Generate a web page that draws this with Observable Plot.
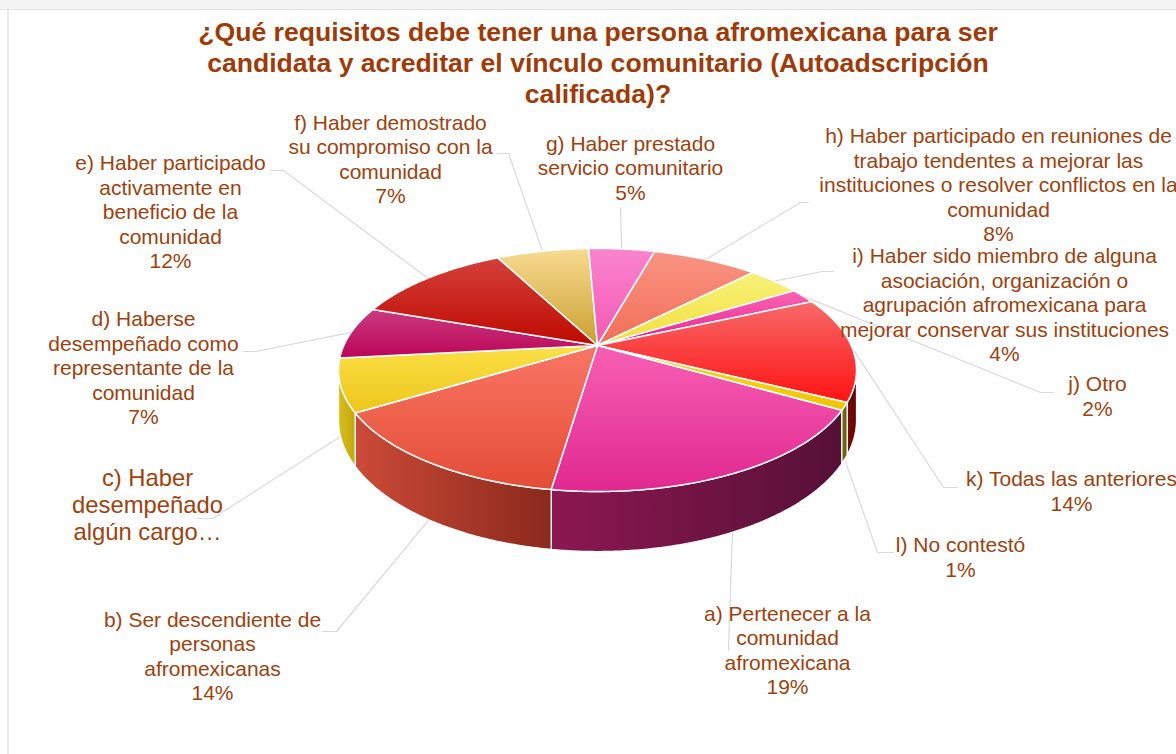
<!DOCTYPE html>
<html><head><meta charset="utf-8">
<script src="https://cdn.jsdelivr.net/npm/d3@7"></script>
<script src="https://cdn.jsdelivr.net/npm/@observablehq/plot@0.6"></script>
<style>
body{margin:0;background:#fff;}
#wrap{position:relative;width:1176px;height:754px;overflow:hidden;}
#topband{position:absolute;left:0;top:0;width:1176px;height:9px;background:#F3F3F3;border-bottom:1px solid #E4E4E4;}
#leftline{position:absolute;left:7px;top:10px;width:2px;height:744px;background:#ECECEC;}
#title{position:absolute;left:0;width:1196px;top:17px;text-align:center;font-family:"Liberation Sans Narrow","Arial Narrow","Liberation Sans",Arial,sans-serif;font-weight:bold;font-size:26.6px;line-height:31px;color:#9E3B08;}
#chart{position:absolute;left:0;top:0;}
</style></head><body>
<div id="wrap">
<div id="topband"></div>
<div id="leftline"></div>
<div id="chart"></div>
<div id="title">¿Qué requisitos debe tener una persona afromexicana para ser<br>candidata y acreditar el vínculo comunitario (Autoadscripción<br>calificada)?</div>
</div>
<script>
// ---- data ----
const keys = ["a","b","c","d","e","f","g","h","i","j","k","l"];
const categories = [
  "a) Pertenecer a la\ncomunidad\nafromexicana",
  "b) Ser descendiente de\npersonas\nafromexicanas",
  "c) Haber\ndesempeñado\nalgún cargo…",
  "d) Haberse\ndesempeñado como\nrepresentante de la\ncomunidad",
  "e) Haber participado\nactivamente en\nbeneficio de la\ncomunidad",
  "f) Haber demostrado\nsu compromiso con la\ncomunidad",
  "g) Haber prestado\nservicio comunitario",
  "h) Haber participado en reuniones de\ntrabajo tendentes a mejorar las\ninstituciones o resolver conflictos en la\ncomunidad",
  "i) Haber sido miembro de alguna\nasociación, organización o\nagrupación afromexicana para\nmejorar conservar sus instituciones",
  "j) Otro",
  "k) Todas las anteriores",
  "l) No contestó"
];
const values = [19,14,7,7,12,7,5,8,4,2,14,1];
const showPercent = [true,true,false,true,true,true,true,true,true,true,true,true];

// ---- styles ----
const topGrad = [
  ["#F760B4","#E0288F"],["#F87664","#E44C36"],["#FBE046","#EDC61C"],["#CA3A7E","#BC0558"],
  ["#D4403A","#BE0A00"],["#F8DB92","#C99F2E"],["#FA84CE","#F458B6"],["#FA9484","#F26E56"],
  ["#F8F27A","#F2DE3C"],["#F866B4","#EC1E8E"],["#F76A6A","#FF1212"],["#F8DA2A","#EEC400"]
];
const wallGrad = [
  ["#8C1852","#561036"],["#CC4A38","#8A291C"],["#D9BE1E","#C5A60E"],["#8A0A4A","#7A0840"],
  ["#8A0A00","#7A0800"],["#A88020","#987018"],["#C04090","#B03080"],["#C05040","#B04030"],
  ["#B0A020","#A09018"],["#A01060","#901050"],["#7A0C0C","#5E0606"],["#7A720C","#5E5806"]
];
const labelColor = "#A0410D";

// ---- layout ----
const cx = 597, cy = 345, A = 253.7, B = 116.6, K = 0.2016, D = 47.9, startDeg = 120;
const labelLayout = {
  a:{x:787,y:649,sx:728,sy:650},
  b:{x:212,y:655,sx:322,sy:631,ex:336},
  c:{x:147,y:504,sx:197,sy:518,ex:212},
  d:{x:143,y:367,sx:243,sy:351,ex:255},
  e:{x:170,y:211,sx:270,sy:170,ex:283},
  f:{x:390,y:158,sx:497,sy:153,ex:508},
  g:{x:630,y:167,sx:620,sy:207},
  h:{x:998,y:184,sx:808,sy:202,ex:800},
  i:{x:1004,y:304,sx:833,sy:271,ex:822},
  j:{x:1097,y:395,sx:1053,sy:392,ex:1040},
  k:{x:1071,y:490,sx:957,sy:487,ex:943},
  l:{x:960,y:556,sx:893,sy:552,ex:877}
};

function P(deg, r, h) {
  const t = deg * Math.PI / 180;
  const u = r * Math.sin(t), v = r * Math.cos(t);
  const den = 1 + K * v;
  return {x: cx + A * u / den, y: cy - B * v / den + h * D / den};
}
function arc(d0, d1, h) {
  const n = Math.max(2, Math.ceil(Math.abs(d1 - d0) / 0.5));
  return d3.range(n + 1).map(j => P(d0 + (d1 - d0) * j / n, 1, h));
}

const total = d3.sum(values);
let cum = 0;
const slices = values.map((v, i) => {
  const d0 = startDeg + 360 * cum / total;
  cum += v;
  const d1 = startDeg + 360 * cum / total;
  return {key: keys[i], i, d0, d1, mid: (d0 + d1) / 2};
});

const visA = Math.acos(-K) * 180 / Math.PI, visB = 360 - visA;
function norm(d){ return ((d % 360) + 360) % 360; }

const wallMarks = [], topMarks = [];
slices.forEach(s => {
  let a0 = norm(s.d0), a1 = a0 + (s.d1 - s.d0);
  const w0 = Math.max(a0, visA), w1 = Math.min(a1, visB);
  if (w1 > w0) {
    const pts = [...arc(w0, w1, 0), ...arc(w1, w0, 1)];
    pts.push(pts[0]);
    wallMarks.push(Plot.line(pts, {x: "x", y: "y", fill: `url(#gw${s.i})`, stroke: "white", strokeWidth: 1.3, strokeLinejoin: "round"}));
  }
  const c = {x: cx, y: cy};
  const tp = [c, ...arc(s.d0, s.d1, 0), c];
  topMarks.push(Plot.line(tp, {x: "x", y: "y", fill: `url(#gt${s.i})`, stroke: "white", strokeWidth: 1.5, strokeLinejoin: "round"}));
});

// leader lines
const leaders = [];
slices.forEach(s => {
  const L = labelLayout[s.key];
  const m = norm(s.mid);
  const onWall = m > visA && m < visB;
  const end = P(s.mid, 1, onWall ? 1 : 0);
  leaders.push({key: s.key, x: L.sx, y: L.sy});
  if (L.ex !== undefined) leaders.push({key: s.key, x: L.ex, y: L.sy});
  leaders.push({key: s.key, x: end.x, y: end.y});
});

const labelRows = slices.map(s => ({
  key: s.key,
  x: labelLayout[s.key].x, y: labelLayout[s.key].y,
  text: categories[s.i] + (showPercent[s.i] ? "\n" + values[s.i] + "%" : "")
}));

const svg = Plot.plot({
  width: 1176, height: 754, margin: 0,
  x: {domain: [0, 1176], range: [0, 1176], axis: null},
  y: {domain: [0, 754], range: [0, 754], axis: null},
  style: {background: "transparent"},
  marks: [
    Plot.line(leaders, {x: "x", y: "y", z: "key", stroke: "#D9D9D9", strokeWidth: 1.2, curve: "linear"}),
    ...wallMarks,
    ...topMarks,
    Plot.text(labelRows.filter(d => d.key !== "c"), {x: "x", y: "y", text: "text", fill: labelColor, fontSize: 21, lineHeight: 1.165, fontFamily: "Liberation Sans, Arial, sans-serif", textAnchor: "middle", lineAnchor: "middle"}),
    Plot.text(labelRows.filter(d => d.key === "c"), {x: "x", y: "y", text: "text", fill: labelColor, fontSize: 23.8, lineHeight: 1.14, fontFamily: "Liberation Sans, Arial, sans-serif", textAnchor: "middle", lineAnchor: "middle"})
  ]
});

// gradient definitions
const ns = "http://www.w3.org/2000/svg";
const defs = document.createElementNS(ns, "defs");
function addGrad(id, cols, horiz) {
  const g = document.createElementNS(ns, "linearGradient");
  g.setAttribute("id", id);
  g.setAttribute("x1", "0"); g.setAttribute("y1", "0");
  g.setAttribute("x2", horiz ? "1" : "0"); g.setAttribute("y2", horiz ? "0" : "1");
  cols.forEach((c, j) => {
    const st = document.createElementNS(ns, "stop");
    st.setAttribute("offset", j / (cols.length - 1));
    st.setAttribute("stop-color", c);
    g.appendChild(st);
  });
  defs.appendChild(g);
}
topGrad.forEach((c, i) => addGrad("gt" + i, c, false));
wallGrad.forEach((c, i) => addGrad("gw" + i, c, true));
svg.insertBefore(defs, svg.firstChild);
document.getElementById("chart").appendChild(svg);
</script>
</body></html>
